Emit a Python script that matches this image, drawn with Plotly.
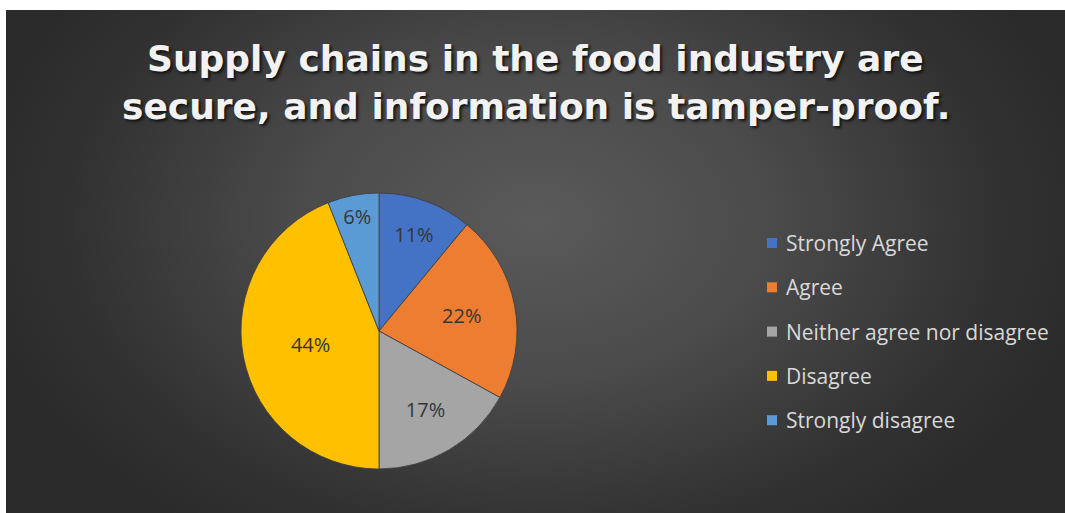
import plotly.graph_objects as go

# Survey responses
categories = ["Strongly Agree", "Agree", "Neither agree nor disagree", "Disagree", "Strongly disagree"]
shares = [11, 22, 17, 44, 6]
colors = ["#4472C4", "#ED7D31", "#A5A5A5", "#FFC000", "#5B9BD5"]
title_lines = ["Supply chains in the food industry are", "secure, and information is tamper-proof."]

W, H = 1065, 513
ML, MT = 6, 10
PW, PH = W - ML, H - MT


def px_x(x):
    return (x - ML) / PW


def px_y(y):
    return 1 - (y - MT) / PH


fig = go.Figure()

# dark backdrop with a soft radial highlight (polygon extends past the clip area
# so that the bright centre sits a little above the middle)
fig.add_trace(go.Scatter(
    x=[-0.05, 1.05, 1.05, -0.05, -0.05], y=[-0.2, -0.2, 1.36, 1.36, -0.2],
    mode="lines", fill="toself",
    line=dict(width=0),
    fillgradient=dict(type="radial",
                      colorscale=[[0, "#5a5a5a"], [0.4, "#4b4b4b"], [0.8, "#313131"], [1, "#2a2a2a"]]),
    hoverinfo="skip", showlegend=False,
))

cx, cy, r = 379, 331, 138
fig.add_trace(go.Pie(
    labels=categories,
    values=shares,
    sort=False,
    direction="clockwise",
    rotation=0,
    marker=dict(colors=colors, line=dict(color="rgba(60,60,60,0.8)", width=1)),
    texttemplate="%{percent:.0%}",
    textposition="inside",
    insidetextorientation="horizontal",
    textfont=dict(family="Open Sans, sans-serif", size=20, color="#363636"),
    domain=dict(x=[px_x(cx - r), px_x(cx + r)], y=[px_y(cy + r), px_y(cy - r)]),
    showlegend=False,
))

# legend: squares and labels
for i, (lab, col) in enumerate(zip(categories, colors)):
    yc = 243 + i * 44.3
    fig.add_shape(type="rect", xref="paper", yref="paper",
                  x0=px_x(767), x1=px_x(777), y0=px_y(yc + 5), y1=px_y(yc - 5),
                  fillcolor=col, line=dict(width=0))
    fig.add_annotation(x=px_x(784), y=px_y(yc), xref="paper", yref="paper",
                       text=lab, showarrow=False, xanchor="left", yanchor="middle",
                       font=dict(family="Open Sans, sans-serif", size=21, color="#d9d9d9"))

# two-line title
for line, yc in zip(title_lines, [58, 106]):
    fig.add_annotation(
        x=0.5, y=px_y(yc), xref="paper", yref="paper",
        xanchor="center", yanchor="middle", showarrow=False,
        text=line,
        font=dict(family="DejaVu Sans, sans-serif", size=36, color="#f2f2f2", weight="bold",
                  shadow="2px 2px 3px #111111"),
    )

fig.update_layout(
    width=W, height=H,
    margin=dict(l=ML, r=0, t=MT, b=0),
    paper_bgcolor="white",
    plot_bgcolor="rgba(0,0,0,0)",
    xaxis=dict(range=[0, 1], visible=False, fixedrange=True),
    yaxis=dict(range=[0, 1], visible=False, fixedrange=True),
)

fig.write_html("out.html")
